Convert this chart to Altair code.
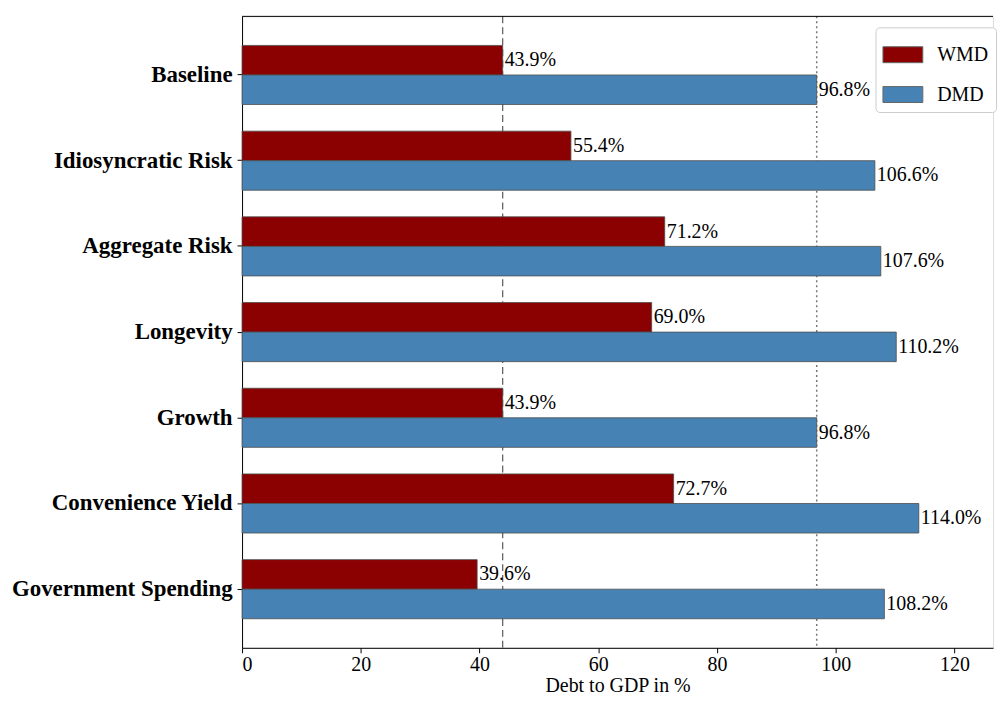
import altair as alt
import pandas as pd

categories = ["Baseline", "Idiosyncratic Risk", "Aggregate Risk", "Longevity",
              "Growth", "Convenience Yield", "Government Spending"]
wmd = [43.9, 55.4, 71.2, 69.0, 43.9, 72.7, 39.6]
dmd = [96.8, 106.6, 107.6, 110.2, 96.8, 114.0, 108.2]
series = ["WMD", "DMD"]
colors = ["#8B0000", "#4682B4"]
ref_wmd = 43.9
ref_dmd = 96.8
x_ticks = [0, 20, 40, 60, 80, 100, 120]

rows = []
for c, a, b in zip(categories, wmd, dmd):
    rows.append({"cat": c, "series": "WMD", "value": a, "label": f"{a:.1f}%"})
    rows.append({"cat": c, "series": "DMD", "value": b, "label": f"{b:.1f}%"})
df = pd.DataFrame(rows)

FONT = "Liberation Serif"

xs = alt.Scale(domain=[0, 126.5], nice=False, zero=True)
ys = alt.Scale(domain=categories, paddingInner=0, paddingOuter=0.184)
yo = alt.Scale(domain=series, paddingInner=0, paddingOuter=0.45)

x_enc = alt.X("value:Q", scale=xs,
              axis=alt.Axis(values=x_ticks, title="Debt to GDP in %", grid=False,
                            labelFontSize=20, titleFontSize=20, titleFontWeight="normal",
                            labelFont=FONT, titleFont=FONT, tickSize=5,
                            labelPadding=2, titlePadding=1,
                            domainColor="black", tickColor="black",
                            labelColor="black", titleColor="black"))
y_enc = alt.Y("cat:N", scale=ys, sort=categories,
              axis=alt.Axis(title=None, labelFontSize=23, labelFont=FONT,
                            labelFontWeight="bold", labelColor="black",
                            tickSize=5, labelPadding=5, labelLimit=400,
                            minExtent=235, maxExtent=235,
                            domainColor="black", tickColor="black"))

base = alt.Chart(df)

bars = base.mark_bar(stroke="#4d4d4d", strokeWidth=0.8).encode(
    x=x_enc,
    y=y_enc,
    yOffset=alt.YOffset("series:N", scale=yo, sort=series),
    color=alt.Color("series:N", scale=alt.Scale(domain=series, range=colors),
                    legend=alt.Legend(title=None, orient="none", legendX=636, legendY=11,
                                      labelFont=FONT, labelFontSize=20, labelColor="black",
                                      symbolType="M-1,-0.4H1V0.4H-1Z", symbolSize=1600,
                                      symbolStrokeColor="#666", symbolStrokeWidth=1,
                                      labelOffset=14, rowPadding=9, padding=7,
                                      strokeColor="#cccccc", fillColor="white",
                                      cornerRadius=4)),
)

labels = base.mark_text(align="left", baseline="middle", dx=2, font=FONT,
                        fontSize=20, color="black").encode(
    x=alt.X("value:Q", scale=xs),
    y=alt.Y("cat:N", scale=ys, sort=categories),
    yOffset=alt.YOffset("series:N", scale=yo, sort=series),
    text="label:N",
)

refs = pd.DataFrame({"x": [ref_wmd]})
refs2 = pd.DataFrame({"x": [ref_dmd]})
rule1 = alt.Chart(refs).mark_rule(color="#666666", strokeDash=[7, 4], strokeWidth=1.3).encode(
    x=alt.X("x:Q", scale=xs))
rule2 = alt.Chart(refs2).mark_rule(color="#777777", strokeDash=[2, 3], strokeWidth=1.5).encode(
    x=alt.X("x:Q", scale=xs))
top = alt.Chart(pd.DataFrame({"a": [0]})).mark_rule(color="black", strokeWidth=1).encode(
    y=alt.value(0))

chart = alt.layer(rule1, rule2, bars, labels, top).properties(
    width=754, height=634,
    padding={"left": 0, "top": 6, "right": 0, "bottom": 0},
).configure_view(stroke=None).configure(background="white")

chart.save("out.html", embed_options={"renderer": "svg", "actions": False})
